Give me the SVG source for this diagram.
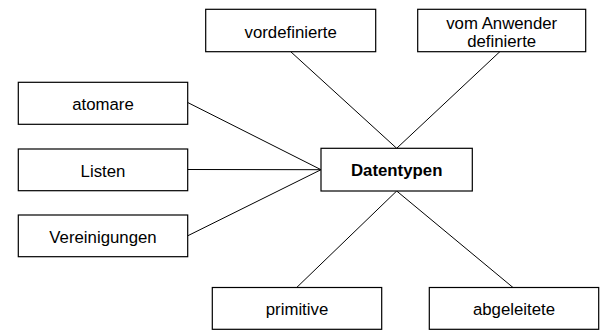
<svg xmlns="http://www.w3.org/2000/svg" width="603" height="330" viewBox="0 0 603 330">
<style>
rect{fill:#fff;stroke:#000;stroke-width:1.2}
text{font-family:"Liberation Sans",Arial,sans-serif;font-size:16.8px;fill:#000;text-anchor:middle}
.b{font-weight:bold}
#connectors line{stroke:#000;stroke-width:1}
</style>
<rect x="0" y="0" width="603" height="330" style="stroke:none;fill:#fff"/>
<g id="connectors">
<line x1="290.5" y1="51.5" x2="396.7" y2="148.3"/>
<line x1="500" y1="51.5" x2="396.7" y2="148.3"/>
<line x1="187.7" y1="102.5" x2="321" y2="169.7"/>
<line x1="187.7" y1="169.5" x2="321" y2="169.7"/>
<line x1="187.7" y1="235.8" x2="321" y2="169.7"/>
<line x1="396.7" y1="191" x2="296.7" y2="287.5"/>
<line x1="396.7" y1="191" x2="513" y2="287.5"/>
</g>
<g id="vordefinierte">
<rect x="205.7" y="9.3" width="170" height="42.4"/>
<text x="290.7" y="37.7">vordefinierte</text>
</g>
<g id="vomAnwender">
<rect x="417.7" y="9.3" width="168" height="42.4"/>
<text x="501.7" y="29.3">vom Anwender</text>
<text x="501.7" y="46.7">definierte</text>
</g>
<g id="atomare">
<rect x="18.3" y="82.3" width="169.4" height="42"/>
<text x="103" y="110">atomare</text>
</g>
<g id="listen">
<rect x="18.3" y="149" width="169.4" height="41.7"/>
<text x="103" y="176.7">Listen</text>
</g>
<g id="vereinigungen">
<rect x="18.3" y="215" width="169.4" height="41.7"/>
<text x="103" y="242.7">Vereinigungen</text>
</g>
<g id="datentypen">
<rect x="321" y="148.3" width="151.3" height="42.7"/>
<text class="b" x="396.7" y="175.7">Datentypen</text>
</g>
<g id="primitive">
<rect x="212.3" y="287.5" width="169.4" height="41.8"/>
<text x="297" y="315">primitive</text>
</g>
<g id="abgeleitete">
<rect x="429.3" y="287.5" width="169.4" height="41.8"/>
<text x="514" y="315">abgeleitete</text>
</g>
</svg>
